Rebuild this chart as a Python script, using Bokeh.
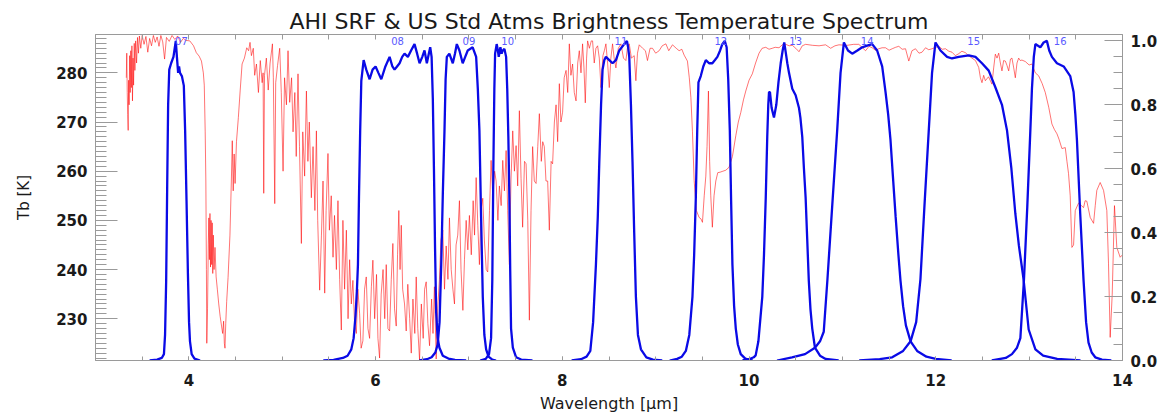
from bokeh.plotting import figure
from bokeh.models import Range1d, LinearAxis, FixedTicker, PrintfTickFormatter
from bokeh.embed import file_html
from bokeh.resources import INLINE
from bokeh.core.properties import value

# ---------------- data ----------------
title_text = "AHI SRF & US Std Atms Brightness Temperature Spectrum"

# US standard atmosphere brightness temperature spectrum (wavelength um, Tb K)
spec_wl = [
    3.330, 3.335, 3.340, 3.345, 3.350, 3.355, 3.360, 3.366, 3.372, 3.378, 3.384, 3.390, 3.396, 3.402, 3.408,
    3.415, 3.422, 3.430, 3.440, 3.450, 3.460, 3.470, 3.485, 3.500, 3.520, 3.540, 3.560, 3.580, 3.600, 3.620,
    3.640, 3.660, 3.680, 3.700, 3.720, 3.740, 3.760, 3.790, 3.820, 3.850, 3.880, 3.910, 3.940, 3.970, 4.010,
    4.050, 4.080, 4.110, 4.135, 4.155, 4.165, 4.175, 4.182, 4.188, 4.192, 4.200, 4.208, 4.214, 4.220, 4.226,
    4.232, 4.238, 4.244, 4.250, 4.256, 4.262, 4.270, 4.280, 4.292, 4.305, 4.320, 4.335, 4.350, 4.362, 4.372,
    4.380, 4.387, 4.395, 4.405, 4.420, 4.440, 4.455, 4.465, 4.475, 4.485, 4.495, 4.510, 4.530, 4.550, 4.570,
    4.595, 4.620, 4.640, 4.655,
    4.670, 4.690, 4.705, 4.724, 4.745, 4.765, 4.785, 4.795, 4.802, 4.810, 4.830, 4.850, 4.870, 4.895, 4.905,
    4.920, 4.930, 4.950, 4.973, 4.990, 5.009, 5.025, 5.045, 5.062, 5.080, 5.100, 5.116, 5.135, 5.150, 5.169,
    5.185, 5.205, 5.220, 5.240, 5.259, 5.275, 5.290, 5.312, 5.330, 5.350, 5.366, 5.380, 5.401, 5.420, 5.437,
    5.455, 5.470, 5.490, 5.505, 5.525, 5.544, 5.560, 5.580, 5.597, 5.615, 5.633, 5.650, 5.668, 5.687, 5.705,
    5.722,
    5.740, 5.757, 5.775, 5.794, 5.810, 5.829, 5.845, 5.864, 5.882, 5.900, 5.918, 5.936, 5.955, 5.971, 5.990,
    6.010, 6.025, 6.043, 6.060, 6.080, 6.098, 6.114, 6.132, 6.150, 6.168, 6.185, 6.203, 6.221, 6.235, 6.249,
    6.262, 6.275, 6.290, 6.310, 6.328, 6.345, 6.365, 6.382, 6.400, 6.420, 6.435, 6.452, 6.471, 6.490, 6.510,
    6.525, 6.542, 6.560, 6.578, 6.600, 6.615, 6.630, 6.649, 6.665, 6.684,
    6.700, 6.720, 6.738, 6.756, 6.775, 6.791, 6.810, 6.828, 6.845, 6.862, 6.880, 6.898, 6.915, 6.935, 6.952,
    6.970, 6.988, 7.005, 7.025, 7.045, 7.060, 7.077, 7.095, 7.112, 7.130, 7.148, 7.165, 7.185, 7.201, 7.220,
    7.237, 7.255, 7.275, 7.291, 7.310, 7.326, 7.345, 7.362, 7.380, 7.398, 7.415, 7.433, 7.450, 7.469, 7.487,
    7.505, 7.522, 7.540, 7.558, 7.575, 7.595, 7.612, 7.630, 7.647, 7.665, 7.682, 7.700, 7.719, 7.737, 7.754,
    7.775, 7.790, 7.807, 7.825, 7.843, 7.861, 7.880, 7.896, 7.915, 7.933, 7.950, 7.968, 7.985, 8.003, 8.020,
    8.040, 8.058, 8.075, 8.092, 8.110, 8.128, 8.147, 8.165, 8.182, 8.200, 8.217, 8.232, 8.246, 8.260, 8.271,
    8.290, 8.310, 8.324, 8.342, 8.360, 8.378, 8.396, 8.414, 8.435, 8.450, 8.467, 8.485, 8.503, 8.520, 8.538,
    8.555, 8.574, 8.600, 8.628, 8.655, 8.681, 8.700, 8.717, 8.740, 8.770, 8.788, 8.805, 8.824, 8.860, 8.890,
    8.912, 8.940, 8.966, 9.000, 9.037, 9.070, 9.109, 9.140, 9.180, 9.220, 9.251, 9.280, 9.305, 9.340, 9.360,
    9.377, 9.394, 9.412, 9.436, 9.465, 9.485, 9.501, 9.520, 9.537, 9.550, 9.565, 9.578, 9.590, 9.607, 9.625,
    9.644, 9.665, 9.690, 9.720, 9.751, 9.786, 9.822, 9.858, 9.885, 9.911, 9.940, 9.965, 10.000, 10.035, 10.070,
    10.107, 10.140, 10.179, 10.214, 10.249, 10.280, 10.321, 10.356, 10.393, 10.430, 10.463, 10.500, 10.535, 10.570, 10.606,
    10.680, 10.750, 10.820, 10.874, 10.920, 10.963, 11.050, 11.120, 11.176, 11.248, 11.285, 11.319, 11.355, 11.390, 11.425,
    11.462, 11.500, 11.533, 11.570, 11.604, 11.640, 11.676, 11.711, 11.745, 11.783, 11.820, 11.853, 11.890, 11.925, 11.960,
    12.000, 12.032, 12.070, 12.104, 12.140, 12.174, 12.210, 12.246, 12.280, 12.318, 12.350, 12.388, 12.425, 12.460, 12.478,
    12.495, 12.513, 12.531, 12.565, 12.602, 12.620, 12.638, 12.656, 12.674, 12.692, 12.709, 12.727, 12.745, 12.763, 12.781,
    12.800, 12.816, 12.835, 12.852, 12.870, 12.888, 12.905, 12.923, 12.959, 13.000, 13.030, 13.066, 13.102, 13.140, 13.173,
    13.210, 13.244, 13.270, 13.298, 13.320, 13.351, 13.387, 13.405, 13.422, 13.440, 13.458, 13.476, 13.494, 13.529, 13.560,
    13.583, 13.600, 13.618, 13.654, 13.690, 13.708, 13.725, 13.761, 13.797, 13.832, 13.850, 13.868, 13.890, 13.914, 13.939,
    13.975, 14.000,
]
spec_tb = [
    279.0, 284.0, 276.0, 271.5, 268.3, 278.5, 273.5, 283.5, 276.0, 284.5, 277.0, 285.5, 274.3, 283.0, 277.5,
    286.0, 280.5, 286.5, 282.0, 287.2, 284.0, 287.5, 285.0, 287.6, 285.8, 287.4, 284.2, 287.0, 285.5, 287.6,
    286.2, 287.3, 285.4, 287.6, 286.3, 282.8, 287.2, 286.4, 287.6, 286.8, 287.5, 286.2, 287.0, 286.6, 286.5,
    285.5, 284.1, 283.4, 282.4, 280.0, 277.5, 268.0, 258.0, 240.0, 225.0, 232.0, 245.0, 250.5, 242.0, 251.4,
    240.5, 250.0, 241.0, 249.5, 239.2, 247.0, 240.0, 244.5, 238.5, 236.0, 233.0, 230.5, 228.5, 227.0, 229.5,
    225.0, 224.0, 229.0, 233.5, 238.4, 247.0, 258.0, 266.2, 256.0, 263.5, 257.5, 266.0, 270.9, 276.5, 281.8,
    283.0, 285.1, 284.5, 286.2,
    283.5, 285.0, 279.5, 281.8, 276.0, 282.5, 278.0, 280.0, 255.5, 279.5, 283.0, 276.5, 282.0, 285.9, 279.0,
    253.4, 278.0, 281.5, 285.0, 276.0, 260.0, 279.0, 273.5, 284.5, 274.0, 279.0, 268.0, 276.0, 263.0, 279.8,
    265.0, 245.3, 268.0, 259.0, 276.3, 262.0, 270.0, 254.6, 265.0, 252.0, 268.2, 250.0, 235.8, 247.0, 258.0,
    235.2, 252.0, 263.6, 248.0, 255.0, 242.5, 251.0, 240.0, 254.0, 238.0, 227.7, 250.0, 236.0, 248.0, 230.0,
    242.0,
    233.0, 237.8, 229.0, 227.0, 236.0, 231.0, 224.0, 225.5, 236.0, 238.5, 228.0, 226.0, 236.5, 241.9, 230.0,
    239.0, 226.0, 222.0, 235.0, 240.0, 230.0, 241.0, 228.0, 227.5, 238.0, 245.3, 232.0, 228.5, 243.0, 252.0,
    240.0, 249.0, 236.0, 233.0, 227.5, 237.0, 230.0, 223.0, 234.0, 227.0, 238.5, 228.0, 221.6, 233.0, 226.0,
    236.0, 237.5, 229.0, 224.5, 234.0, 227.0, 236.5, 221.8, 232.0, 238.0,
    246.0, 248.0, 236.0, 244.8, 238.0, 250.5, 240.0, 236.0, 233.0, 245.0, 247.0, 254.0, 240.0, 231.7, 242.0,
    250.0, 244.0, 251.0, 243.0, 254.0, 247.0, 258.7, 249.0, 241.0, 252.0, 254.5, 246.0, 240.0, 239.5, 252.0,
    262.2, 255.0, 260.0, 258.0, 250.0, 257.0, 253.0, 262.2, 256.0, 264.2, 252.0, 241.0, 258.0, 268.2, 260.0,
    265.2, 257.0, 272.3, 258.5, 248.6, 262.0, 261.5, 250.0, 229.7, 252.0, 265.0, 258.0, 257.5, 265.0, 271.7,
    262.0, 266.0, 265.0, 258.0, 258.0, 248.0, 262.0, 261.5, 270.0, 273.5, 266.0, 277.8, 270.0, 272.0, 279.0,
    280.5, 276.0, 285.9, 279.5, 281.8, 276.0, 274.3, 282.0, 284.5, 280.0, 285.9, 281.0, 273.9, 283.0, 286.5,
    285.0, 286.5, 286.5, 282.0, 285.0, 285.5, 283.0, 277.0, 283.5, 284.5, 285.9, 282.0, 277.0, 283.0, 285.9,
    283.0, 281.0, 285.0, 285.9, 283.0, 282.5, 285.5, 285.9, 283.0, 283.5, 278.4, 284.0, 285.7, 285.0, 284.5,
    282.5, 285.0, 285.0, 284.0, 284.5, 285.5, 285.9, 284.5, 285.7, 285.0, 284.5, 284.8, 283.6, 282.4, 279.0,
    275.0, 268.0, 258.1, 252.0, 250.6, 250.3, 249.6, 255.0, 259.0, 265.0, 276.3, 262.0, 255.0, 248.6, 255.0,
    258.0, 259.7, 259.8, 260.0, 260.2, 260.8, 263.0, 267.2, 270.0, 271.9, 274.5, 276.3, 278.5, 279.8, 282.0,
    284.0, 285.0, 285.2, 284.8, 285.0, 285.2, 285.1, 285.7, 285.8, 285.5, 285.6, 285.0, 284.3, 285.5, 285.8,
    285.6, 285.5, 285.7, 285.0, 285.5, 285.7, 285.6, 285.8, 285.8, 284.5, 285.4, 285.1, 284.6, 284.9, 285.1,
    285.1, 284.6, 284.9, 285.2, 285.4, 284.8, 284.9, 282.4, 284.5, 284.9, 284.0, 284.2, 285.1, 284.7, 284.9,
    285.2, 285.4, 284.8, 284.9, 284.4, 284.2, 283.5, 283.9, 284.4, 284.1, 283.5, 283.0, 282.5, 281.1, 279.0,
    278.0, 279.5, 278.4, 279.2, 277.7, 281.0, 283.8, 283.0, 284.0, 282.0, 280.4, 282.5, 282.4, 281.5, 280.4,
    282.8, 283.0, 281.0, 279.0, 282.0, 283.0, 282.5, 282.6, 282.3, 281.6, 281.8, 280.0, 279.4, 277.8, 276.0,
    273.0, 269.6, 268.5, 267.6, 266.5, 264.6, 264.8, 262.0, 259.5, 255.0, 244.5, 245.0, 252.0, 253.5, 253.0,
    252.6, 254.0, 253.9, 250.6, 249.4, 253.0, 256.1, 257.7, 256.1, 252.0, 241.3, 226.2, 235.0, 253.0, 244.5,
    242.5, 243.0,
]

# AHI spectral response functions (wavelength um, normalised response)
ch_names = ["07", "08", "09", "10", "11", "12", "13", "14", "15", "16"]
ch_label_wl = [3.92, 6.235, 7.0, 7.415, 8.628, 9.697, 10.5, 11.265, 12.406, 13.333]

srf07_wl = [3.58, 3.66, 3.71, 3.733, 3.745, 3.757, 3.768, 3.778, 3.79, 3.81, 3.835, 3.86, 3.872, 3.885,
            3.895, 3.905, 3.925, 3.946, 3.96, 3.975, 3.99, 4.002, 4.012, 4.03, 4.06, 4.12]
srf07_r = [0.0, 0.003, 0.008, 0.02, 0.08, 0.25, 0.55, 0.8, 0.91, 0.93, 0.95, 1.0, 0.95, 0.9,
           0.92, 0.9, 0.89, 0.86, 0.72, 0.5, 0.27, 0.12, 0.06, 0.02, 0.006, 0.0]

srf08_wl = [5.44, 5.55, 5.65, 5.70, 5.74, 5.765, 5.785, 5.80, 5.811, 5.822, 5.835, 5.847, 5.872, 5.90,
            5.936, 5.968, 6.0, 6.03, 6.061, 6.105, 6.15, 6.18, 6.203, 6.23, 6.257, 6.285, 6.31, 6.346,
            6.38, 6.417, 6.445, 6.471, 6.50, 6.524, 6.549, 6.57, 6.585, 6.60, 6.613, 6.625, 6.637, 6.649,
            6.665, 6.684, 6.72, 6.78, 6.85, 6.97]
srf08_r = [0.0, 0.002, 0.008, 0.015, 0.035, 0.07, 0.14, 0.22, 0.3, 0.51, 0.72, 0.875, 0.94, 0.91,
           0.88, 0.91, 0.92, 0.9, 0.88, 0.92, 0.95, 0.92, 0.91, 0.92, 0.93, 0.95, 0.96, 0.95,
           0.97, 0.99, 0.96, 0.93, 0.95, 0.97, 0.93, 0.96, 0.98, 0.95, 0.82, 0.6, 0.35, 0.15,
           0.07, 0.04, 0.015, 0.006, 0.002, 0.0]

srf09_wl = [6.47, 6.55, 6.60, 6.64, 6.665, 6.685, 6.703, 6.72, 6.738, 6.75, 6.763, 6.79, 6.827, 6.85,
            6.87, 6.898, 6.933, 6.96, 6.987, 7.04, 7.077, 7.095, 7.112, 7.13, 7.148, 7.165, 7.184, 7.21,
            7.25, 7.29]
srf09_r = [0.0, 0.004, 0.01, 0.025, 0.05, 0.12, 0.30, 0.52, 0.72, 0.88, 0.95, 0.96, 0.93, 0.96,
           0.99, 0.97, 0.93, 0.95, 0.97, 0.98, 0.95, 0.85, 0.72, 0.45, 0.2, 0.08, 0.035, 0.012,
           0.003, 0.0]

srf10_wl = [7.12, 7.18, 7.215, 7.237, 7.25, 7.262, 7.272, 7.28, 7.297, 7.31, 7.319, 7.337, 7.35, 7.362,
            7.38, 7.398, 7.41, 7.422, 7.433, 7.442, 7.451, 7.47, 7.505, 7.56, 7.68]
srf10_r = [0.0, 0.005, 0.02, 0.07, 0.25, 0.62, 0.85, 0.96, 0.99, 0.97, 0.95, 0.98, 0.96, 0.97,
           0.975, 0.95, 0.85, 0.7, 0.51, 0.28, 0.1, 0.04, 0.01, 0.003, 0.0]

srf11_wl = [8.10, 8.20, 8.26, 8.30, 8.33, 8.36, 8.38, 8.396, 8.415, 8.431, 8.45, 8.467, 8.503, 8.538,
            8.574, 8.61, 8.663, 8.692, 8.705, 8.717, 8.735, 8.752, 8.77, 8.788, 8.81, 8.842, 8.9, 8.97,
            9.07]
srf11_r = [0.0, 0.004, 0.012, 0.03, 0.12, 0.3, 0.45, 0.62, 0.8, 0.91, 0.94, 0.95, 0.94, 0.93,
           0.94, 0.97, 0.99, 1.0, 0.98, 0.95, 0.8, 0.62, 0.4, 0.2, 0.08, 0.035, 0.01, 0.003,
           0.0]

srf12_wl = [9.15, 9.23, 9.28, 9.323, 9.36, 9.394, 9.412, 9.43, 9.445, 9.458, 9.483, 9.51, 9.537, 9.572,
            9.607, 9.635, 9.661, 9.69, 9.714, 9.74, 9.76, 9.777, 9.794, 9.808, 9.822, 9.84, 9.858, 9.88,
            9.911, 9.96, 10.04]
srf12_r = [0.0, 0.005, 0.012, 0.03, 0.08, 0.2, 0.33, 0.51, 0.72, 0.87, 0.89, 0.92, 0.94, 0.93,
           0.93, 0.94, 0.95, 0.97, 0.99, 1.0, 0.98, 0.88, 0.72, 0.5, 0.30, 0.17, 0.1, 0.05,
           0.02, 0.006, 0.0]

srf13_wl = [9.93, 10.0, 10.05, 10.071, 10.10, 10.142, 10.16, 10.179, 10.195, 10.206, 10.214, 10.224,
            10.242, 10.267, 10.292, 10.315, 10.339, 10.36, 10.377, 10.395, 10.41, 10.428, 10.463,
            10.499, 10.535, 10.55, 10.57, 10.588, 10.606, 10.623, 10.64, 10.658, 10.677, 10.706,
            10.76, 10.82, 10.96]
srf13_r = [0.0, 0.004, 0.01, 0.016, 0.06, 0.2, 0.33, 0.51, 0.7, 0.8, 0.84, 0.84,
           0.79, 0.76, 0.80, 0.87, 0.93, 0.97, 0.995, 0.96, 0.93, 0.90, 0.85,
           0.83, 0.79, 0.76, 0.70, 0.6, 0.51, 0.38, 0.25, 0.16, 0.1, 0.04,
           0.015, 0.005, 0.0]

srf14_wl = [10.30, 10.46, 10.60, 10.706, 10.76, 10.80, 10.84, 10.89, 10.944, 10.98, 11.016, 11.06,
            11.105, 11.16, 11.212, 11.265, 11.319, 11.372, 11.426, 11.462, 11.49, 11.515, 11.54, 11.57,
            11.60, 11.622, 11.65, 11.68, 11.73, 11.80, 11.90, 12.0, 12.17]
srf14_r = [0.0, 0.01, 0.02, 0.04, 0.06, 0.09, 0.255, 0.48, 0.72, 0.9, 0.995, 0.97,
           0.96, 0.97, 0.98, 0.985, 0.99, 0.97, 0.92, 0.84, 0.77, 0.69, 0.58, 0.45,
           0.33, 0.25, 0.17, 0.11, 0.06, 0.03, 0.012, 0.005, 0.0]

srf15_wl = [11.18, 11.40, 11.533, 11.65, 11.73, 11.79, 11.836, 11.88, 11.925, 11.96, 11.997, 12.05,
            12.121, 12.174, 12.246, 12.353, 12.425, 12.495, 12.567, 12.638, 12.709, 12.763, 12.81,
            12.852, 12.89, 12.94, 12.995, 13.067, 13.15, 13.30, 13.55]
srf15_r = [0.0, 0.004, 0.01, 0.03, 0.06, 0.12, 0.255, 0.49, 0.72, 0.9, 0.995, 0.97,
           0.95, 0.945, 0.95, 0.955, 0.95, 0.93, 0.907, 0.855, 0.80, 0.72, 0.6,
           0.46, 0.36, 0.255, 0.097, 0.035, 0.015, 0.005, 0.0]

srf16_wl = [12.60, 12.75, 12.816, 12.87, 12.906, 12.945, 12.98, 13.013, 13.03, 13.05, 13.067, 13.095,
            13.12, 13.155, 13.19, 13.215, 13.244, 13.298, 13.37, 13.44, 13.476, 13.495, 13.512, 13.547,
            13.583, 13.61, 13.636, 13.67, 13.708, 13.78, 13.88]
srf16_r = [0.0, 0.008, 0.02, 0.04, 0.07, 0.255, 0.48, 0.72, 0.85, 0.95, 0.99, 0.985,
           0.98, 0.995, 1.0, 0.97, 0.95, 0.93, 0.92, 0.89, 0.84, 0.77, 0.69, 0.46,
           0.25, 0.12, 0.056, 0.025, 0.01, 0.003, 0.0]

srf_wl = [srf07_wl, srf08_wl, srf09_wl, srf10_wl, srf11_wl, srf12_wl, srf13_wl, srf14_wl, srf15_wl, srf16_wl]
srf_r = [srf07_r, srf08_r, srf09_r, srf10_r, srf11_r, srf12_r, srf13_r, srf14_r, srf15_r, srf16_r]

# axis ticks
x_major = [4, 6, 8, 10, 12, 14]
x_minor = [3.5 + 0.5 * i for i in range(21)]
tb_major = [230, 240, 250, 260, 270, 280]
tb_minor = list(range(222, 288))
srf_major = [0.0, 0.2, 0.4, 0.6, 0.8, 1.0]
srf_minor = [0.05 * i for i in range(21)]

# ---------------- figure ----------------
FONT = "DejaVu Sans"
GRAY = "#9a9a9a"

p = figure(width=1173, height=415, output_backend="svg", toolbar_location=None,
           x_range=Range1d(3, 14), y_range=Range1d(221.5, 287.8),
           min_border_left=95, min_border_right=51, min_border_top=34, min_border_bottom=54,
           title=title_text)
p.extra_y_ranges = {"srf": Range1d(0, 1.02)}
p.xgrid.visible = False
p.ygrid.visible = False
p.outline_line_color = GRAY
p.outline_line_width = 1
p.background_fill_color = "white"
p.border_fill_color = "white"

p.title.align = "center"
p.title.text_font = FONT
p.title.text_font_size = "22px"
p.title.text_font_style = "normal"
p.title.text_color = "#1a1a1a"
p.title.standoff = 2

def style_axis(ax, major_in, minor_in):
    ax.axis_line_color = GRAY
    ax.major_tick_line_color = GRAY
    ax.minor_tick_line_color = GRAY
    ax.major_tick_in = major_in
    ax.major_tick_out = 0
    ax.minor_tick_in = minor_in
    ax.minor_tick_out = 0
    ax.major_label_text_font = FONT
    ax.major_label_text_font_size = "15px"
    ax.major_label_text_font_style = "bold"
    ax.major_label_text_color = "#1a1a1a"
    ax.axis_label_text_font = FONT
    ax.axis_label_text_font_style = "normal"
    ax.axis_label_text_color = "#1a1a1a"

xax = p.below[0]
xax.ticker = FixedTicker(ticks=x_major, minor_ticks=x_minor)
style_axis(xax, 4, 4)
xax.major_label_standoff = 13
xax.axis_label = "Wavelength [μm]"
xax.axis_label_text_font_size = "16px"
xax.axis_label_standoff = 5

# top edge: ticks only (all as minor ticks so no labels are produced)
top = LinearAxis(ticker=FixedTicker(ticks=[], minor_ticks=x_minor))
style_axis(top, 5, 5)
top.major_label_standoff = 0
p.add_layout(top, "above")

yax = p.left[0]
yax.ticker = FixedTicker(ticks=tb_major, minor_ticks=tb_minor)
style_axis(yax, 22, 11)
yax.major_label_standoff = 8
yax.axis_label = "Tb [K]"
yax.axis_label_text_font_size = "15px"
yax.axis_label_standoff = 20

rax = LinearAxis(y_range_name="srf", ticker=FixedTicker(ticks=srf_major, minor_ticks=srf_minor),
                 formatter=PrintfTickFormatter(format="%.1f"))
style_axis(rax, 18, 9)
rax.major_label_standoff = 8
p.add_layout(rax, "right")

# spectrum
p.line(spec_wl, spec_tb, line_color="#ff0000", line_alpha=0.55, line_width=1)

# SRFs
for wl, r in zip(srf_wl, srf_r):
    p.line(wl, r, y_range_name="srf", line_color="#0a0ae6", line_width=2.3)

# channel labels
p.text(x=ch_label_wl, y=[1.0] * len(ch_names), text=ch_names, y_range_name="srf",
       text_font=value(FONT), text_font_size="10px", text_color="#5a5aff",
       text_align="center", text_baseline="middle")

open("out.html", "w").write(file_html(p, INLINE))
